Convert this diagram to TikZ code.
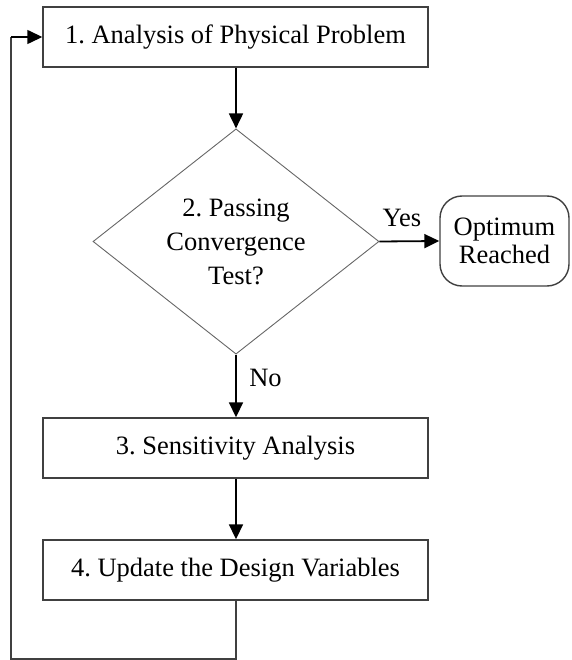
\documentclass[tikz,border=0pt]{standalone}
\usepackage{fontspec}
\setmainfont{Liberation Serif}
\usetikzlibrary{arrows.meta,shapes.geometric}
\begin{document}
\frenchspacing
\begin{tikzpicture}[x=1pt,y=-1pt,
  txt/.style={font=\fontsize{26.5}{34}\selectfont\frenchspacing, text=black},
  stepbox/.style={txt, draw=black!75, line width=1.4pt, minimum width=385pt, minimum height=60pt, inner sep=0pt},
  decision/.style={txt, shape=diamond, draw=black!60, line width=0.9pt, minimum width=286pt, minimum height=225pt, inner sep=0pt, align=center},
  endbox/.style={font=\fontsize{26.5}{28}\selectfont, text=black, draw=black!75, line width=1.4pt, rounded corners=22pt, minimum width=129pt, minimum height=90pt, inner sep=0pt, align=center},
  lbl/.style={txt, inner sep=0pt},
  flow/.style={draw=black, line width=1.8pt, -{Triangle[length=15pt,width=14pt]}},
  back/.style={draw=black!75, line width=1.4pt}
]
\useasboundingbox (0,0) rectangle (571,660);

\node[stepbox] (b1) at (235.5,37) {1. Analysis of Physical Problem};
\node[decision] (d2) at (236,241.5) {2. Passing\\Convergence\\Test?};
\node[endbox] (opt) at (504.5,241) {Optimum\\Reached};
\node[stepbox] (b3) at (235.5,448) {3. Sensitivity Analysis};
\node[stepbox] (b4) at (235.5,570) {4. Update the Design Variables};

\node[lbl] (yes) at (402,218) {Yes};
\node[lbl] (no) at (265.5,377.5) {No};

\coordinate (c1) at (236,659);
\coordinate (c2) at (11,659);
\coordinate (c3) at (11,37);

\draw[flow] (b1.south -| d2.north) -- (d2.north);
\draw[flow] (d2.east) -- (opt.west);
\draw[flow] (d2.south) -- (b3.north -| d2.south);
\draw[flow] (b3.south -| d2.south) -- (b4.north -| d2.south);
\draw[back] (b4.south -| d2.south) -- (c1) -- (c2) -- (c3);
\draw[flow, line width=1.4pt] (c3) -- (b1.west);
\end{tikzpicture}
\end{document}
